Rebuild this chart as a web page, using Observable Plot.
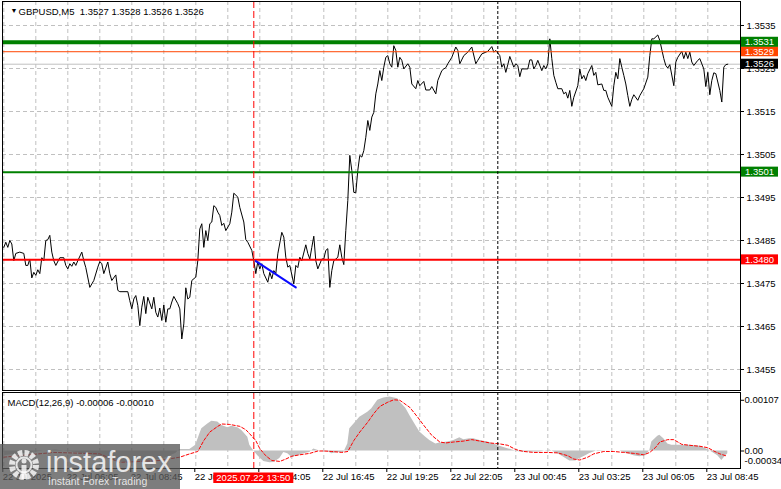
<!DOCTYPE html>
<html>
<head>
<meta charset="utf-8">
<script src="https://cdn.jsdelivr.net/npm/d3@7"></script>
<script src="https://cdn.jsdelivr.net/npm/@observablehq/plot@0.6"></script>
<style>
  body { margin: 0; background: #fff; }
  #wrap { position: relative; width: 781px; height: 489px; overflow: hidden; font-family: "Liberation Sans", Arial, sans-serif; }
  #main { position: absolute; left: 0; top: 0; }
  #macd { position: absolute; left: 0; top: 391px; }
  #logo { position: absolute; left: 0; top: 444px; width: 180px; height: 45px; background: rgba(88,88,88,0.78); }
  #logo .big { position: absolute; left: 46px; top: 4px; font-size: 29px; line-height: 29px; color: rgba(255,255,255,0.82); font-family: "Liberation Sans", Arial, sans-serif; }
  #logo .small { position: absolute; left: 48px; top: 32px; font-size: 10.5px; line-height: 11px; color: rgba(255,255,255,0.82); }
  #logo svg { position: absolute; left: 6px; top: 3px; }
</style>
</head>
<body>
<div id="wrap">
  <div id="main"></div>
  <div id="macd"></div>
  <div id="logo">
    <svg width="36" height="38" viewBox="0 0 36 38">
      <circle cx="18" cy="18" r="12" fill="none" stroke="rgba(255,255,255,0.8)" stroke-width="6" stroke-dasharray="4.2,2.1"/>
      <circle cx="18" cy="18" r="7.5" fill="none" stroke="rgba(255,255,255,0.8)" stroke-width="2"/>
      <circle cx="18" cy="14" r="2.5" fill="rgba(255,255,255,0.8)"/>
      <rect x="15.5" y="18" width="5" height="14" fill="rgba(255,255,255,0.8)"/>
    </svg>
    <div class="big">instaforex</div>
    <div class="small">Instant Forex Trading</div>
  </div>
</div>
<script>
// ---------------- DATA ----------------
const chartTitle = "GBPUSD,M5\u00a0\u00a01.3527 1.3528 1.3526 1.3526";
const macdTitle = "MACD(12,26,9) -0.00006 -0.00010";

// bar index: 0 = 22 Jul 03:25 (M5 bars)
const priceBars = [0,1,2,3,4,5,6,8,10,11,12,13,14,15,16,17,18,19,20,21,22,23,24,25,26,28,30,31,32,33,34,35,36,37,39,40,41,43,45,47,48,49,50,52,53,54,56,57,58,62,63,64,65,66,67,68,69,70,71,72,74,75,76,77,78,79,80,81,82,83,84,85,87,88,89,90,91,92,93,94,96,97,98,99,100,101,102,103,104,105,106,107,108,109,110,111,113,114,115,117,118,120,121,122,124,125,126,127,128,129,130,132,133,134,135,136,137,139,140,141,142,143,145,146,147,148,149,151,152,153,154,155,156,157,159,160,161,162,163,164,165,167,168,169,170,171,172,173,174,175,176,177,178,179,180,181,182,183,184,185,186,187,188,189,190,191,192,193,194,195,196,197,198,199,200,202,203,204,206,207,208,210,211,213,214,216,217,219,220,221,222,224,226,227,228,230,232,234,236,237,239,242,244,245,246,248,249,250,251,252,253,255,256,257,258,259,262,263,264,265,266,267,269,270,271,272,273,274,275,276,277,279,280,281,282,283,284,285,287,288,289,290,291,292,294,295,296,297,299,300,301,302,304,305,306,307,308,309,310,311,312,313,314,315,317,318,320,322,323,324,325,327,328,330,331,332,333,335,336,337,339,340,341,342,343,344,345,347,348,350,351,352,353,354,355,356,358,359,360,361,362];
const priceValues = [1.34834,1.34846,1.34834,1.34850,1.34842,1.34803,1.34820,1.34823,1.34820,1.34792,1.34792,1.34807,1.34763,1.34776,1.34769,1.34782,1.34773,1.34810,1.34803,1.34850,1.34852,1.34862,1.34823,1.34803,1.34792,1.34810,1.34810,1.34792,1.34784,1.34796,1.34790,1.34800,1.34792,1.34803,1.34823,1.34803,1.34787,1.34741,1.34757,1.34788,1.34801,1.34796,1.34773,1.34800,1.34773,1.34757,1.34770,1.34734,1.34731,1.34731,1.34710,1.34691,1.34714,1.34722,1.34699,1.34652,1.34695,1.34720,1.34680,1.34718,1.34691,1.34718,1.34683,1.34672,1.34693,1.34664,1.34700,1.34660,1.34691,1.34691,1.34707,1.34720,1.34703,1.34691,1.34621,1.34656,1.34740,1.34714,1.34718,1.34757,1.34765,1.34803,1.34877,1.34889,1.34834,1.34873,1.34850,1.34889,1.34893,1.34931,1.34927,1.34916,1.34908,1.34885,1.34890,1.34873,1.34889,1.34916,1.34960,1.34951,1.34927,1.34893,1.34852,1.34846,1.34827,1.34803,1.34773,1.34801,1.34784,1.34796,1.34773,1.34753,1.34776,1.34761,1.34780,1.34773,1.34819,1.34869,1.34858,1.34811,1.34788,1.34792,1.34749,1.34792,1.34787,1.34811,1.34803,1.34840,1.34820,1.34807,1.34834,1.34860,1.34803,1.34784,1.34807,1.34807,1.34827,1.34831,1.34741,1.34780,1.34803,1.34811,1.34840,1.34811,1.34794,1.34873,1.34943,1.35048,1.35013,1.34962,1.34961,1.35013,1.35048,1.35044,1.35059,1.35090,1.35129,1.35106,1.35137,1.35148,1.35191,1.35214,1.35245,1.35222,1.35253,1.35276,1.35280,1.35261,1.35253,1.35303,1.35292,1.35253,1.35276,1.35269,1.35249,1.35261,1.35253,1.35214,1.35203,1.35222,1.35210,1.35220,1.35200,1.35200,1.35208,1.35191,1.35222,1.35245,1.35249,1.35252,1.35261,1.35276,1.35300,1.35292,1.35261,1.35280,1.35288,1.35300,1.35261,1.35269,1.35284,1.35290,1.35301,1.35288,1.35292,1.35280,1.35253,1.35261,1.35241,1.35259,1.35278,1.35253,1.35261,1.35257,1.35231,1.35249,1.35249,1.35270,1.35270,1.35249,1.35257,1.35269,1.35245,1.35257,1.35249,1.35261,1.35319,1.35273,1.35234,1.35218,1.35203,1.35203,1.35191,1.35195,1.35181,1.35199,1.35162,1.35183,1.35210,1.35249,1.35226,1.35234,1.35222,1.35238,1.35257,1.35234,1.35241,1.35212,1.35214,1.35199,1.35199,1.35183,1.35162,1.35210,1.35241,1.35226,1.35273,1.35253,1.35234,1.35214,1.35187,1.35162,1.35178,1.35189,1.35176,1.35187,1.35203,1.35230,1.35280,1.35319,1.35319,1.35328,1.35315,1.35273,1.35257,1.35251,1.35259,1.35210,1.35265,1.35276,1.35290,1.35273,1.35288,1.35273,1.35288,1.35265,1.35257,1.35269,1.35273,1.35249,1.35208,1.35241,1.35189,1.35222,1.35240,1.35238,1.35199,1.35172,1.35253,1.35259,1.35260];

// MACD histogram (main) and signal line
const histBars = [0,10,20,26,36,46,56,64,72,80,86,88,93,96,98,99,102,104,107,109,112,114,117,119,122,123,125,127,130,133,135,138,140,142,144,147,150,153,155,158,162,164,167,170,172,173,176,178,182,184,187,190,193,197,198,201,203,206,208,211,213,216,218,222,225,228,230,233,235,238,242,245,248,252,255,258,268,273,277,280,283,286,288,291,293,297,302,308,312,315,318,321,323,324,327,328,330,332,334,338,343,348,352,354,357,359,361,362];
const histValues = [-0.00010,-0.00005,0,0.00002,-0.00003,-0.00010,-0.00022,-0.00026,-0.00022,-0.00016,-0.00005,0.00003,0.00003,0.00012,0.00036,0.00047,0.00057,0.00063,0.00061,0.00054,0.00049,0.00052,0.00049,0.00043,0.00029,0.00012,0,-0.00010,-0.00022,-0.00025,-0.00024,-0.00016,-0.00003,-0.00006,-0.00013,-0.00010,-0.00006,-0.00003,0.00004,0,-0.00001,-0.00006,-0.00003,-0.00003,0.00015,0.00047,0.00061,0.00071,0.00082,0.00089,0.00107,0.00112,0.00114,0.00110,0.00104,0.00090,0.00075,0.00054,0.00040,0.00029,0.00022,0.00015,0.00017,0.00019,0.00022,0.00028,0.00024,0.00026,0.00026,0.00022,0.00019,0.00015,0.00010,0.00005,0.00001,-0.00002,-0.00002,0.00002,-0.00006,-0.00013,-0.00021,-0.00021,-0.00016,-0.00010,-0.00005,0.00001,0,0,-0.00006,-0.00010,-0.00012,-0.00010,0.00001,0.00019,0.00031,0.00033,0.00026,0.00015,0.00012,0.00012,0.00012,0.00010,0.00003,-0.00002,-0.00010,-0.00020,-0.00010,-0.00006];
const signalBars = [0,25,48,58,78,88,93,97,100,103,107,109,113,118,121,123,126,128,131,134,138,141,144,148,153,157,160,164,169,172,175,178,182,185,188,192,195,198,203,207,210,214,218,221,225,230,234,238,243,248,252,256,260,265,272,277,282,285,288,292,295,300,305,310,315,320,323,326,328,332,335,339,343,348,352,355,358,361];
const signalValues = [-0.00013,-0.00003,-0.00006,-0.00024,-0.00020,-0.00013,-0.00006,-0.00001,0.00022,0.00040,0.00052,0.00057,0.00056,0.00052,0.00045,0.00036,0.00022,0.00005,-0.00010,-0.00020,-0.00022,-0.00017,-0.00011,-0.00008,-0.00005,0,0,-0.00001,-0.00003,-0.00001,0.00022,0.00040,0.00061,0.00079,0.00094,0.00103,0.00108,0.00107,0.00092,0.00071,0.00054,0.00033,0.00019,0.00017,0.00019,0.00021,0.00024,0.00021,0.00017,0.00015,0.00012,0.00003,-0.00001,-0.00003,-0.00003,-0.00004,-0.00010,-0.00017,-0.00019,-0.00013,-0.00006,-0.00001,-0.00001,-0.00003,-0.00005,-0.00008,-0.00003,0.00008,0.00019,0.00024,0.00024,0.00014,0.00012,0.00010,0.00007,0,-0.00006,-0.00010];

// horizontal levels
const levelValues = [1.3526, 1.35289, 1.35311, 1.35009, 1.34805];
const levelLabels = ["1.3526", "1.3529", "1.3531", "1.3501", "1.3480"];
const levelColors = ["#000000", "#ff4500", "#008000", "#008000", "#ff0000"];
const levelLineColors = ["#c0c0c0", "#ff4500", "#008000", "#008000", "#ff0000"];
const levelWidths = [1, 1, 4, 2, 2];

// trend line (blue)
const trendBars = [126, 146];
const trendValues = [1.34802, 1.34741];

// vertical markers
const markerBar = 125;            // 2025.07.22 13:50
const markerLabel = "2025.07.22 13:50";
const daySeparatorBar = 247;      // 23 Jul 00:00

// axes
const priceTicks = [1.3455, 1.3465, 1.3475, 1.3485, 1.3495, 1.3505, 1.3515, 1.3525, 1.3535];
const timeTickBars = [0, 32, 64, 96, 128, 160, 192, 224, 256, 288, 320, 352];
const timeTickLabels = ["22 Jul 2025", "22 Jul 06:05", "22 Jul 08:45", "22 Jul 11:25", "22 Jul 14:05", "22 Jul 16:45", "22 Jul 19:25", "22 Jul 22:05", "23 Jul 00:45", "23 Jul 03:25", "23 Jul 06:05", "23 Jul 08:45"];
const gridBars = d3.range(0, 353, 16);
const macdTickValues = [0.00107, 0];
const macdTickLabels = ["0.00107", "0.00"];
const macdMinValue = -0.00034;
const macdMinLabel = "-0.00034";

// ---------------- BUILD ----------------
const priceData = priceBars.map((b, i) => ({bar: b, price: priceValues[i]}));
const histData = histBars.map((b, i) => ({bar: b, v: histValues[i]}));
const signalData = signalBars.map((b, i) => ({bar: b, v: signalValues[i]}));
const trendData = trendBars.map((b, i) => ({bar: b, price: trendValues[i]}));

const W = 781, MR = 41, ML = 2;
const xDomain = [-0.65, 368.35];
const font = "Liberation Sans, Arial, sans-serif";
const fs = "9.5px";
const grid = {stroke: "#c0c0c0", strokeDasharray: "4,3", strokeWidth: 1};

const main = Plot.plot({
  width: W, height: 392,
  marginLeft: ML, marginRight: MR, marginTop: 1, marginBottom: 2,
  x: {domain: xDomain, axis: null},
  y: {domain: [1.345012, 1.354058], axis: null},
  style: {background: "white", color: "black", fontFamily: font, fontSize: fs, overflow: "visible"},
  marks: [
    Plot.ruleY(priceTicks, grid),
    Plot.ruleX(gridBars, grid),
    Plot.ruleY([levelValues[0]], {stroke: levelLineColors[0], strokeWidth: levelWidths[0]}),
    Plot.line(priceData, {x: "bar", y: "price", stroke: "black", strokeWidth: 1}),
    ...levelValues.slice(1).map((v, i) => Plot.ruleY([v], {stroke: levelLineColors[i + 1], strokeWidth: levelWidths[i + 1]})),
    Plot.line(trendData, {x: "bar", y: "price", stroke: "#0a0aff", strokeWidth: 2}),
    Plot.ruleX([markerBar], {stroke: "#ff0000", strokeDasharray: "7,3", strokeWidth: 1}),
    Plot.ruleX([daySeparatorBar], {stroke: "black", strokeDasharray: "3,2", strokeWidth: 1}),
    Plot.frame({stroke: "black"}),
    Plot.axisY({anchor: "right", label: null, ticks: priceTicks, tickFormat: d => d.toFixed(4), tickSize: 3, tickPadding: 3, fill: "black"}),
    Plot.text(["\u25BC"], {frameAnchor: "top-left", dx: 8, dy: 9, fontSize: 7, lineAnchor: "middle"}),
    Plot.text([chartTitle], {frameAnchor: "top-left", dx: 16, dy: 10, textAnchor: "start", lineAnchor: "middle"})
  ]
});
document.getElementById("main").appendChild(main);

// value boxes on the price axis
{
  const ys = main.scale("y");
  const g = d3.select(main).append("g").attr("font-family", font).attr("font-size", fs).attr("text-anchor", "start");
  levelValues.forEach((v, i) => {
    const y = ys.apply(v);
    g.append("rect").attr("x", W - MR + 1).attr("y", y - 5).attr("width", 37).attr("height", 10).attr("fill", levelColors[i]);
    g.append("text").attr("x", W - MR + 5).attr("y", y).attr("dy", "0.35em").attr("fill", "white").text(levelLabels[i]);
  });
}

const macd = Plot.plot({
  width: W, height: 98,
  marginLeft: ML, marginRight: MR, marginTop: 1, marginBottom: 21,
  x: {domain: xDomain, axis: null},
  y: {domain: [-0.000369, 0.001234], axis: null},
  style: {background: "transparent", color: "black", fontFamily: font, fontSize: fs, overflow: "visible"},
  marks: [
    Plot.ruleX(gridBars, grid),
    Plot.areaY(histData, {x: "bar", y: "v", fill: "#c0c0c0"}),
    Plot.line(signalData, {x: "bar", y: "v", stroke: "#ff0000", strokeDasharray: "3,2", strokeWidth: 1}),
    Plot.ruleX([markerBar], {stroke: "#ff0000", strokeDasharray: "7,3", strokeWidth: 1}),
    Plot.ruleX([daySeparatorBar], {stroke: "black", strokeDasharray: "3,2", strokeWidth: 1}),
    Plot.frame({stroke: "black"}),
    Plot.axisY({anchor: "right", label: null, ticks: macdTickValues, tickFormat: (d, i) => macdTickLabels[i], tickSize: 3, tickPadding: 1, fill: "black"}),
    Plot.text([macdMinValue], {y: d => d, text: () => macdMinLabel, frameAnchor: "right", dx: 4, dy: -6, textAnchor: "start"}),
    Plot.axisX({anchor: "bottom", label: null, ticks: timeTickBars, tickFormat: (d, i) => timeTickLabels[i], tickSize: 4, tickPadding: 1, textAnchor: "start", dx: -1, fill: "black"}),
    Plot.text([macdTitle], {frameAnchor: "top-left", dx: 5, dy: 10, textAnchor: "start", lineAnchor: "middle"})
  ]
});
document.getElementById("macd").appendChild(macd);

// time marker label box
{
  const xs = macd.scale("x");
  const cx = xs.apply(markerBar);
  const g = d3.select(macd).append("g").attr("font-family", font).attr("font-size", fs);
  g.append("rect").attr("x", cx - 40).attr("y", 81.5).attr("width", 80).attr("height", 10.5).attr("fill", "#ff0000");
  g.append("text").attr("x", cx).attr("y", 86.8).attr("dy", "0.35em").attr("text-anchor", "middle").attr("fill", "white").text(markerLabel);
}
</script>
</body>
</html>
